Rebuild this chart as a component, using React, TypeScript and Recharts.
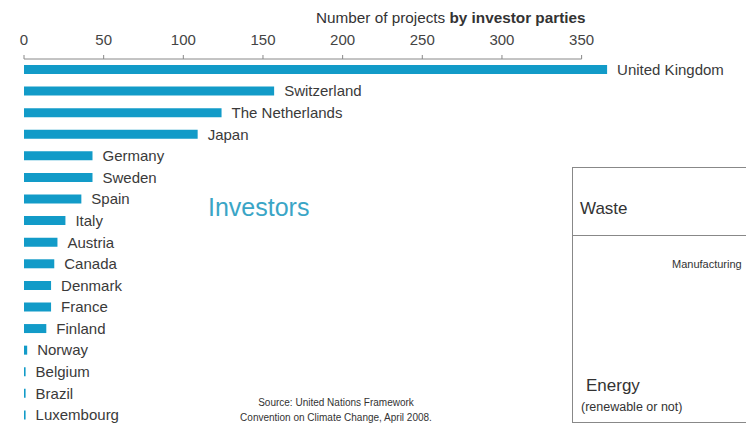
import React from 'react';
import { BarChart, Bar, XAxis, YAxis, LabelList } from 'recharts';

// countries ranked by number of CDM projects
const countries = [
  'United Kingdom', 'Switzerland', 'The Netherlands', 'Japan', 'Germany', 'Sweden',
  'Spain', 'Italy', 'Austria', 'Canada', 'Denmark', 'France', 'Finland',
  'Norway', 'Belgium', 'Brazil', 'Luxembourg',
];
const projects = [366, 157, 124, 109, 43, 43, 36, 26, 21, 19, 17, 17, 14, 2, 1, 1, 1];
const axisTicks = [0, 50, 100, 150, 200, 250, 300, 350];

const data = countries.map((name, i) => ({ name, value: projects[i] }));

const W = 746;
const H = 429;
const MARGIN = { top: 29, right: 21, bottom: 3, left: 24 };
const X_MAX = 440;
const PLOT_W = W - MARGIN.left - MARGIN.right;
const PPU = PLOT_W / X_MAX;
const FONT = '"Liberation Sans", Arial, sans-serif';
const BLUE = '#129bc8';

const AxisTick = (props: any) => {
  const { x, y, payload } = props;
  const lineY = y + 14; // tickMargin + tickSize
  return (
    <g>
      <text x={x} y={y} textAnchor="middle" fill="#444" fontSize={15} fontFamily={FONT}>
        {payload.value}
      </text>
      <line x1={x} x2={x} y1={lineY - 4} y2={lineY} stroke="#888" />
      {payload.value === 0 && (
        <line
          x1={x}
          x2={x + axisTicks[axisTicks.length - 1] * PPU}
          y1={lineY}
          y2={lineY}
          stroke="#888"
          strokeWidth={1}
        />
      )}
    </g>
  );
};

export default function App() {
  return (
    <div
      style={{
        position: 'absolute', left: 0, top: 0, width: W, height: H,
        overflow: 'hidden', background: '#fff', fontFamily: FONT,
      }}
    >
      <div style={{ position: 'absolute', left: 316, top: 9, fontSize: 15.3, color: '#333', whiteSpace: 'nowrap' }}>
        Number of projects <b>by investor parties</b>
      </div>

      <BarChart width={W} height={H} data={data} layout="vertical" margin={MARGIN}>
        <XAxis
          type="number"
          orientation="top"
          domain={[0, X_MAX]}
          ticks={axisTicks}
          axisLine={false}
          tickLine={false}
          tickSize={4}
          tickMargin={10}
          height={30}
          tick={<AxisTick />}
        />
        <YAxis type="category" dataKey="name" hide width={0} />
        <Bar dataKey="value" fill={BLUE} barSize={9} isAnimationActive={false}>
          <LabelList
            dataKey="name"
            position="right"
            offset={10}
            fill="#3a3a3a"
            fontSize={15}
            fontFamily={FONT}
          />
        </Bar>
      </BarChart>

      <div style={{ position: 'absolute', left: 208, top: 193, fontSize: 25, color: '#3aa5c6' }}>
        Investors
      </div>

      <div
        style={{
          position: 'absolute', left: 236, top: 395, width: 200, textAlign: 'center',
          fontSize: 10, lineHeight: '15px', color: '#333',
        }}
      >
        Source: United Nations Framework
        <br />
        Convention on Climate Change, April 2008.
      </div>

      <div
        style={{
          position: 'absolute', left: 572, top: 167, width: 200, height: 254,
          border: '1px solid #888', borderRight: 'none',
        }}
      >
        <div style={{ position: 'absolute', left: 0, top: 67, width: '100%', borderTop: '1px solid #888' }} />
        <div style={{ position: 'absolute', left: 7, top: 31, fontSize: 17, color: '#333' }}>Waste</div>
        <div style={{ position: 'absolute', left: 99, top: 90, fontSize: 11, color: '#333', whiteSpace: 'nowrap' }}>
          Manufacturing
        </div>
        <div style={{ position: 'absolute', left: 13, top: 208, fontSize: 17, color: '#333' }}>Energy</div>
        <div style={{ position: 'absolute', left: 8, top: 232, fontSize: 12.5, color: '#333', whiteSpace: 'nowrap' }}>
          (renewable or not)
        </div>
      </div>
    </div>
  );
}
